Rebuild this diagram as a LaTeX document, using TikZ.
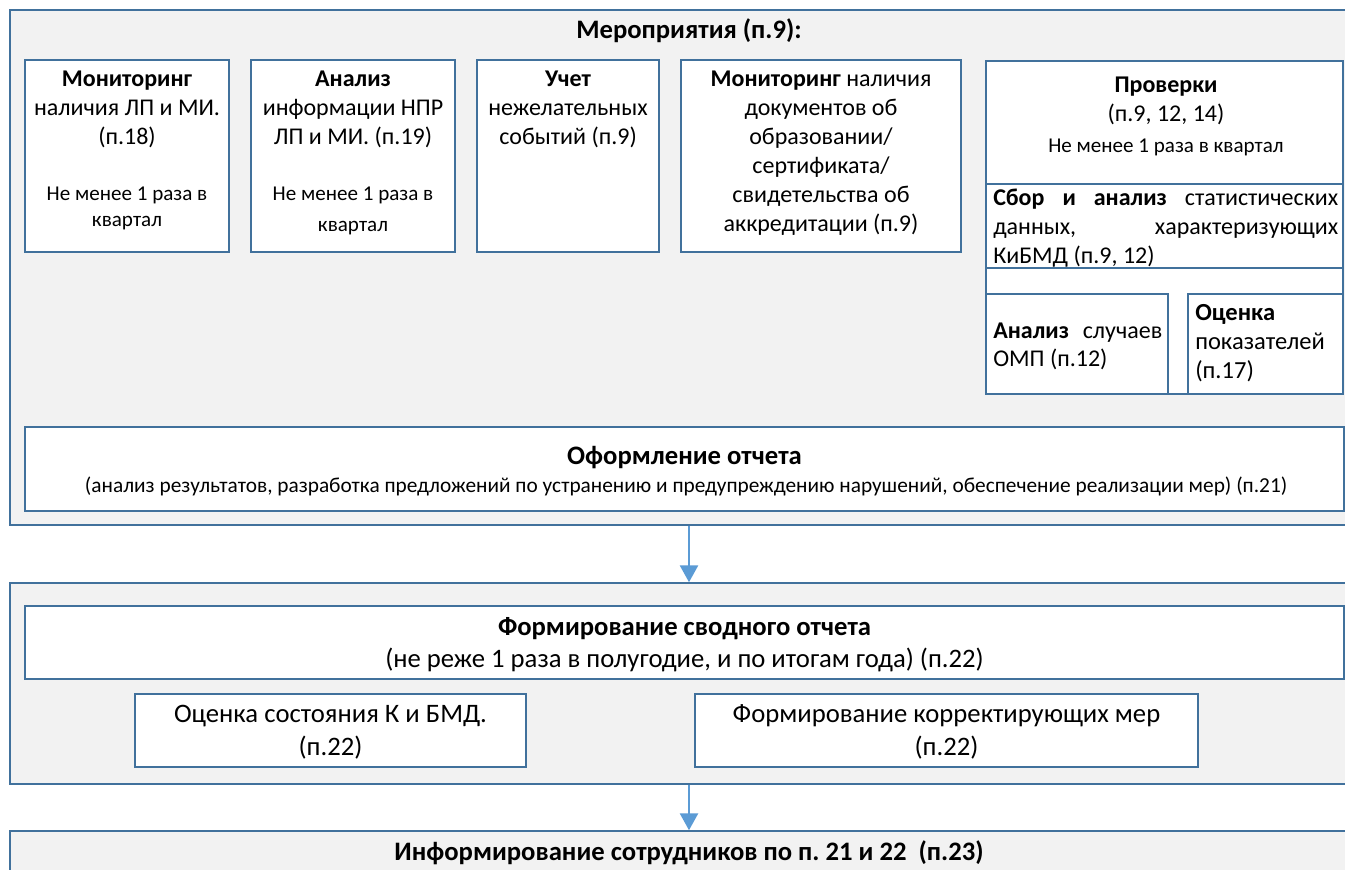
\documentclass[tikz,border=0pt]{standalone}
\usepackage{fontspec}
\setmainfont{Carlito}
\usetikzlibrary{fit,arrows.meta}
\definecolor{bfill}{HTML}{F2F2F2}
\definecolor{bline}{HTML}{41719C}
\definecolor{arrc}{HTML}{5B9BD5}
\frenchspacing
\newcommand\mainf{\fontsize{18}{21.75}\selectfont}
\newcommand\smallf{\fontsize{15.8}{19.5}\selectfont}
\newcommand\subf{\fontsize{16}{19.5}\selectfont}
\newcommand\botf{\fontsize{20}{24.75}\selectfont}
\begin{document}
\begin{tikzpicture}[x=0.75pt,y=-0.75pt,
  grp/.style={draw=bline, fill=bfill, line width=1.1pt, inner sep=0pt},
  wbox/.style={draw=bline, fill=white, line width=1.1pt, inner sep=0pt},
  txt/.style={inner sep=0pt, anchor=base, align=center, font=\mainf},
  ltxt/.style={inner sep=0pt, anchor=base west, align=left, font=\mainf},
  arr/.style={draw=arrc, line width=2pt, -{Triangle[width=13.5pt,length=12.75pt]}}]
\useasboundingbox (0,0) rectangle (1345,870);
\clip (0,0) rectangle (1345,870);
\fill[white] (0,0) rectangle (1345,870);
% group 1 (anchor=base of a multi-line text = baseline of its last line)
\node[grp, fit={(10,10) (1368,525)}] (G1) {};
\node[txt, font=\botf] (G1t) at (689,39) {\textbf{Мероприятия (п.9):}};
\node[wbox, fit={(25,60) (229,252)}] (A) {};
\node[wbox, fit={(251,60) (455,252)}] (B) {};
\node[wbox, fit={(477,60) (659,252)}] (C) {};
\node[wbox, fit={(681,60) (961,252)}] (D) {};
\node[wbox, fit={(986,61) (1343,184)}] (E) {};
\node[wbox, fit={(986,184) (1343,268)}] (F) {};
\node[wbox, fit={(986,268) (1343,394)}] (H) {};
\node[wbox, fit={(986,294) (1168,394)}] (I) {};
\node[wbox, fit={(1188,294) (1343,394)}] (J) {};
\node[wbox, fit={(25,427) (1344,511)}] (R) {};
\node[txt] (At) at (127,145) {\textbf{Мониторинг}\\наличия ЛП и МИ.\\(п.18)};
\node[txt, font=\fontsize{15.8}{19.5}\selectfont] (Af) at (127,226) {Не менее 1 раза в\\квартал};
\node[txt] (Bt) at (353,145) {\textbf{Анализ}\\информации НПР\\ЛП и МИ. (п.19)};
\node[txt, font=\fontsize{15.8}{23.25}\selectfont] (Bf) at (353,231) {Не менее 1 раза в\\квартал};
\node[txt] (Ct) at (568,145) {\textbf{Учет}\\нежелательных\\событий (п.9)};
\node[txt] (Dt) at (821,231) {\textbf{Мониторинг} наличия\\документов об\\образовании/\\сертификата/\\свидетельства об\\аккредитации (п.9)};
\node[txt] (Et) at (1166,122) {\textbf{Проверки}\\(п.9, 12, 14)};
\node[txt, font=\smallf] (Ef) at (1166,152) {Не менее 1 раза в квартал};
\node[ltxt] (Ft) at (993,263) {\makebox[258.75pt][s]{\textbf{Сбор и анализ} статистических}\\\makebox[258.75pt][s]{данных, характеризующих}\\КиБМД (п.9, 12)};
\node[ltxt, font=\fontsize{18}{21}\selectfont] (It) at (993,366) {\makebox[126.75pt][s]{\textbf{Анализ} случаев}\\ОМП (п.12)};
\node[ltxt, font=\fontsize{18.4}{21.4}\selectfont] (Jt) at (1195,378) {\textbf{Оценка}\\показателей\\(п.17)};
\node[txt, font=\botf] (Rt) at (684.5,464) {\textbf{Оформление отчета}};
\node[txt, font=\subf] (Rs) at (686,492) {(анализ результатов, разработка предложений по устранению и предупреждению нарушений, обеспечение реализации мер) (п.21)};
% group 2
\node[grp, fit={(10,583) (1368,784)}] (G2) {};
\node[wbox, fit={(25,606) (1344,679)}] (S) {};
\node[wbox, fit={(135,694) (526,767)}] (S1) {};
\node[wbox, fit={(695,694) (1198,767)}] (S2) {};
\node[txt, font=\botf] (St) at (684.5,635) {\textbf{Формирование сводного отчета}};
\node[txt, font=\botf] (Ss) at (684.5,667) {(не реже 1 раза в полугодие, и по итогам года) (п.22)};
\node[txt, font=\botf] (S1t) at (330.5,755) {Оценка состояния К и БМД.\\(п.22)};
\node[txt, font=\botf] (S2t) at (946.5,755) {Формирование корректирующих мер\\(п.22)};
% group 3
\node[grp, fit={(10,831) (1368,900)}] (G3) {};
\node[txt, font=\botf] (G3t) at (689,860) {\textbf{Информирование сотрудников по п. 21 и 22\ \ (п.23)}};
% arrows
\draw[arr] (G1.south) -- (G2.north);
\draw[arr] (G2.south) -- (G3.north);
\end{tikzpicture}
\end{document}
